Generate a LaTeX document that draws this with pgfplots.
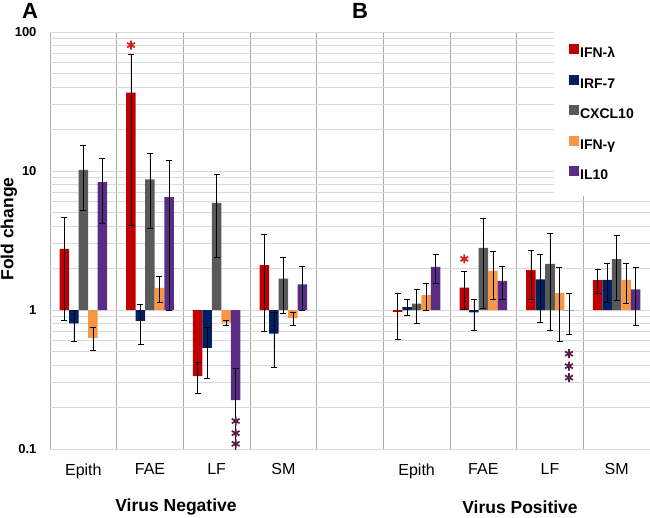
\documentclass[border=0pt]{standalone}
\usepackage{pgfplots}
\pgfplotsset{compat=1.18}
\usepackage{pgfplotstable}
\usepackage{fontspec}
\setmainfont{Liberation Sans}
\definecolor{cred}{HTML}{C00000}
\definecolor{cblue}{HTML}{002060}
\definecolor{cgrey}{HTML}{595959}
\definecolor{corange}{HTML}{F79646}
\definecolor{cpurple}{HTML}{5B2C86}
\definecolor{astred}{HTML}{D42020}
\definecolor{astpur}{HTML}{5A1E46}
\definecolor{vgrid}{HTML}{ABABAB}
\definecolor{hgrid}{HTML}{D9D9D9}

\pgfplotstableread{
x y e
0 2.75 1.9
1 36.6 32.5
2 0.335 0.085
3 2.1 1.4
5 0.97 0.35
6 1.45 0.44
7 1.94 0.75
8 1.64 0.33
}\tred
\pgfplotstableread{
x y e
0 0.80 0.20
1 0.834 0.27
2 0.535 0.21
3 0.676 0.29
5 1.05 0.14
6 0.96 0.24
7 1.66 0.84
8 1.65 0.52
}\tblue
\pgfplotstableread{
x y e
0 10.2 5.0
1 8.7 4.8
2 5.9 3.5
3 1.68 0.73
5 1.11 0.31
6 2.8 1.77
7 2.15 1.44
8 2.32 1.15
}\tgrey
\pgfplotstableread{
x y e
0 0.63 0.12
1 1.44 0.31
2 0.81 0.04
3 0.875 0.095
5 1.28 0.28
6 1.91 0.72
7 1.32 0.72
8 1.65 0.53
}\torange
\pgfplotstableread{
x y e
0 8.3 4.1
1 6.5 5.5
2 0.225 0.153
3 1.53 0.54
5 2.04 0.48
6 1.62 0.43
7 0.995 0.33
8 1.41 0.63
}\tpurple

\begin{document}
\begin{tikzpicture}
\useasboundingbox (0,0) rectangle (650pt,517pt);
\begin{axis}[
  at={(50pt,68pt)}, anchor=south west,
  width=600pt, height=417pt, scale only axis,
  ymode=log, ymin=0.1, ymax=100, xmin=-0.5, xmax=8.5,
  log origin y=0,
  ybar=0pt, bar width=9.5pt,
  ytick={0.1,1,10,100}, yticklabels={0.1,1,10,100},
  minor ytick={0.2,0.3,0.4,0.5,0.6,0.7,0.8,0.9,2,3,4,5,6,7,8,9,20,30,40,50,60,70,80,90},
  xtick={0,1,2,3,4,5,6,7,8},
  xticklabels={Epith,FAE,LF,SM,,Epith,FAE,LF,SM},
  minor xtick={-0.5,0.5,1.5,2.5,3.5,4.5,5.5,6.5,7.5,8.5},
  xmajorgrids=false, xminorgrids=true, ymajorgrids=true, yminorgrids=true,
  x grid style={draw=vgrid, line width=0.8pt},
  y grid style={draw=hgrid, line width=0.8pt},
  axis line style={draw=none},
  tick style={draw=none},
  yticklabel style={font=\bfseries\fontsize{13}{15}\selectfont, xshift=-10pt},
  xticklabel style={font=\fontsize{16}{19}\selectfont, yshift=-7pt},
  legend style={at={(1,1)}, anchor=north east, draw=none, fill=white,
    font=\bfseries\fontsize{14}{16}\selectfont, row sep=13pt,
    inner xsep=15pt, inner ysep=12pt,
    nodes={inner sep=1pt, text height=10pt, text depth=3pt},
    cells={anchor=west}},
  legend image code/.code={\fill[#1] (-2pt,0pt) rectangle (8pt,10pt);},
  error bars/error bar style={draw=black, line width=0.6pt},
  error bars/error mark options={draw=black, line width=0.6pt, mark size=3pt, rotate=90},
]
\addplot[fill=cred, draw=none,
  error bars/.cd, y dir=both, y explicit] table[x=x, y=y, y error=e] {\tred};
\addlegendentry{IFN-λ}
\addplot[fill=cblue, draw=none,
  error bars/.cd, y dir=both, y explicit] table[x=x, y=y, y error=e] {\tblue};
\addlegendentry{IRF-7}
\addplot[fill=cgrey, draw=none,
  error bars/.cd, y dir=both, y explicit] table[x=x, y=y, y error=e] {\tgrey};
\addlegendentry{CXCL10}
\addplot[fill=corange, draw=none,
  error bars/.cd, y dir=both, y explicit] table[x=x, y=y, y error=e] {\torange};
\addlegendentry{IFN-γ}
\addplot[fill=cpurple, draw=none,
  error bars/.cd, y dir=both, y explicit] table[x=x, y=y, y error=e] {\tpurple};
\addlegendentry{IL10}
\end{axis}
\begin{axis}[
  at={(50pt,68pt)}, anchor=south west,
  width=600pt, height=417pt, scale only axis,
  ymode=log, ymin=0.1, ymax=100, xmin=-0.5, xmax=8.5,
  hide axis, clip=false,
]
\addplot[only marks, mark=asterisk, mark size=4.5pt,
  mark options={draw=astred, line width=1.7pt}]
  coordinates {(0.715,80.5) (5.715,2.33)};
\addplot[only marks, mark=asterisk, mark size=4.5pt,
  mark options={draw=astpur, line width=1.7pt}]
  coordinates {(2.285,0.159) (2.285,0.130) (2.285,0.109)
               (7.285,0.485) (7.285,0.395) (7.285,0.326)};
\end{axis}
\node[font=\bfseries\fontsize{17.5}{20}\selectfont] at (176pt,10pt) {Virus Negative};
\node[font=\bfseries\fontsize{17.5}{20}\selectfont] at (520pt,10pt) {Virus Positive};
\node[font=\bfseries\fontsize{22}{24}\selectfont] at (30pt,506pt) {A};
\node[font=\bfseries\fontsize{22}{24}\selectfont] at (360pt,506pt) {B};
\node[font=\bfseries\fontsize{17.5}{20}\selectfont, rotate=90] at (9pt,288pt) {Fold change};
\end{tikzpicture}
\end{document}
